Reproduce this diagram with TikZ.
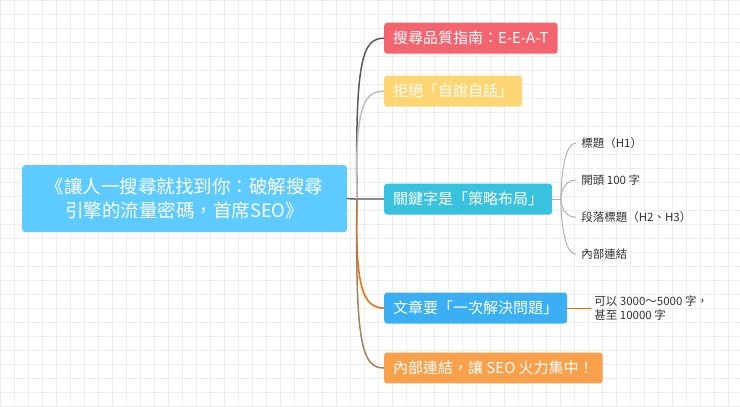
\documentclass[tikz,border=0pt]{standalone}
\usepackage{fontspec}
\setmainfont{Noto Sans CJK TC}
\usetikzlibrary{positioning}
\definecolor{rootblue}{HTML}{5DCBFF}
\definecolor{topicred}{HTML}{F4646F}
\definecolor{topicyellow}{HTML}{FDD673}
\definecolor{topiccyan}{HTML}{38C2E0}
\definecolor{topicblue}{HTML}{3BAFF3}
\definecolor{topicorange}{HTML}{F8A04A}
\definecolor{gridgray}{HTML}{EDEDED}
\tikzset{
  topic/.style={fill=#1,text=white,rounded corners=3pt,anchor=west,
    inner xsep=9pt,minimum height=31pt,font=\fontsize{15}{17}\selectfont},
  leaf/.style={anchor=west,text=black!80,font=\fontsize{11.5}{14}\selectfont,align=left},
  branch/.style={line width=1.5pt,#1},
  twig/.style={line width=1pt,black!30}
}
\begin{document}
\begin{tikzpicture}[x=1pt,y=-1pt,line cap=round]
    % background and grid
    \fill[white] (0,0) rectangle (740,406);
    \draw[gridgray,line width=0.5pt] \foreach \x in {0,14,...,740} {(\x,0) -- (\x,406)};
    \draw[gridgray,line width=0.5pt] \foreach \y in {0,14,...,406} {(0,\y) -- (740,\y)};
    \useasboundingbox (0,0) rectangle (740,406);

    % root
    \node[fill=rootblue,text=white,rounded corners=3pt,minimum width=325pt,minimum height=67pt,
          align=center,font=\fontsize{18.5}{24}\selectfont] (root) at (184.5,198.5)
          {《讓人一搜尋就找到你：破解搜尋\\引擎的流量密碼，首席SEO》};

    % main topics
    \node[topic=topicred]    (eeat)  at (384,38)  {搜尋品質指南：E-E-A-T};
    \node[topic=topicyellow] (self)  at (384,91)  {拒絕「自說自話」};
    \node[topic=topiccyan]   (kw)    at (384,199) {關鍵字是「策略布局」};
    \node[topic=topicblue]   (solve) at (384,308) {文章要「一次解決問題」};
    \node[topic=topicorange] (link)  at (384,368) {內部連結，讓 SEO 火力集中！};

    % connectors from root
    \coordinate (hub) at (357,199);
    \draw[branch=black!60] (root.east) -- (hub);
    \draw[branch=black!65] (hub) .. controls (355,60) and (362,38) .. (eeat.west);
    \draw[branch=black!25] (hub) .. controls (355,110) and (362,91) .. (self.west);
    \draw[branch=black!45] (hub) -- (kw.west);
    \draw[branch={orange!80!red}] (hub) .. controls (355,285) and (362,308) .. (solve.west);
    \draw[branch=brown!60!gray] (hub) .. controls (355,345) and (362,368) .. (link.west);

    % leaves of keyword topic
    \node[leaf] (h1)    at (578,143) {標題（H1）};
    \node[leaf] (intro) at (578,180) {開頭 100 字};
    \node[leaf] (h2h3)  at (578,217) {段落標題（H2、H3）};
    \node[leaf] (inner) at (578,254) {內部連結};
    \coordinate (kwhub) at (561,199);
    \draw[twig] (kw.east) -- (kwhub);
    \foreach \n in {h1,intro,h2h3,inner} {
        \draw[twig] (kwhub) .. controls (561,199) and (561,0|-\n.west) .. ([xshift=-2pt]\n.west);
    }

    % leaf of solve topic
    \node[leaf] (len) at (591,308) {可以 3000～5000 字，\\甚至 10000 字};
    \draw[line width=1pt,orange!80!red] (solve.east) -- (len.west);
\end{tikzpicture}
\end{document}
